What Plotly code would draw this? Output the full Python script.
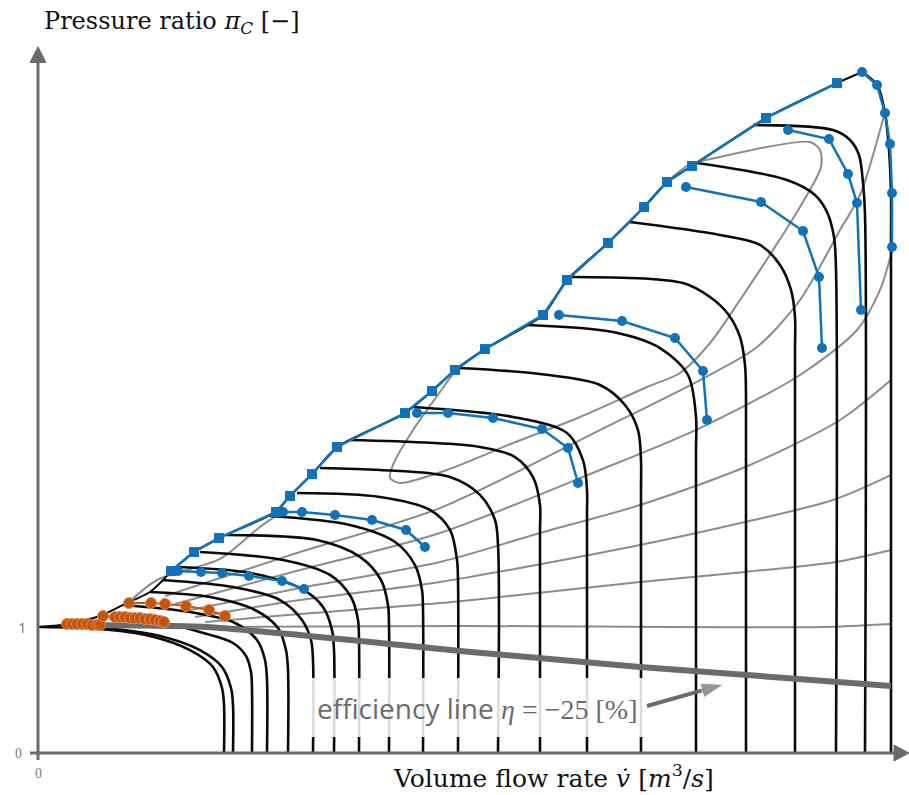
import plotly.graph_objects as go

# ---------------- data (x: volume flow rate, arbitrary units; y: pressure ratio) ----------------
# speed lines (black) : list of x / y point lists, each ending on the x axis at its choke flow
speed_x = [
    [0.02, 0.62, 1.12, 1.52, 1.75, 1.84, 1.86, 1.86],
    [0.67, 1.22, 1.62, 1.84, 1.93, 1.95, 1.95],
    [0.62, 1.32, 1.62, 1.95, 2.08, 2.13, 2.14, 2.14],
    [0.85, 1.52, 1.97, 2.19, 2.27, 2.29, 2.29],
    [1.12, 1.72, 2.17, 2.40, 2.48, 2.50, 2.50],
    [1.25, 1.95, 2.42, 2.64, 2.73, 2.75, 2.75],
    [1.39, 2.12, 2.62, 2.85, 2.94, 2.96, 2.96],
    [1.62, 2.45, 2.92, 3.13, 3.20, 3.21, 3.21],
    [1.89, 2.79, 3.22, 3.43, 3.50, 3.51, 3.51],
    [2.32, 3.12, 3.57, 3.77, 3.84, 3.85, 3.85],
    [2.59, 3.42, 3.92, 4.12, 4.19, 4.20, 4.20],
    [2.82, 3.42, 4.12, 4.42, 4.57, 4.60, 4.60],
    [3.12, 4.42, 4.77, 4.95, 5.02, 5.02, 5.02],
    [3.75, 4.75, 5.29, 5.45, 5.49, 5.49, 5.49],
    [4.22, 5.02, 5.62, 5.87, 6.00, 6.03, 6.03, 6.03],
    [4.89, 5.75, 6.22, 6.50, 6.58, 6.58, 6.58],
    [5.34, 6.45, 6.72, 6.90, 7.02, 7.07, 7.08, 7.08],
    [5.92, 6.82, 7.22, 7.42, 7.53, 7.57, 7.57, 7.57],
    [6.59, 7.49, 7.77, 7.89, 7.96, 7.98, 7.98],
    [7.15, 7.95, 8.12, 8.21, 8.25, 8.27, 8.27],
    [8.24, 8.39, 8.47, 8.51, 8.53, 8.53, 8.53],
]
speed_y = [
    [1.000, 0.984, 0.929, 0.817, 0.683, 0.516, 0.381, 0.0],
    [0.992, 0.929, 0.817, 0.683, 0.516, 0.381, 0.0],
    [1.087, 1.024, 0.960, 0.873, 0.770, 0.643, 0.500, 0.0],
    [1.175, 1.119, 1.032, 0.897, 0.738, 0.579, 0.0],
    [1.278, 1.238, 1.135, 0.992, 0.817, 0.659, 0.0],
    [1.373, 1.317, 1.214, 1.056, 0.897, 0.738, 0.0],
    [1.476, 1.429, 1.310, 1.159, 0.976, 0.817, 0.0],
    [1.595, 1.532, 1.413, 1.238, 1.056, 0.897, 0.0],
    [1.730, 1.690, 1.556, 1.373, 1.175, 1.016, 0.0],
    [1.881, 1.810, 1.675, 1.492, 1.294, 1.135, 0.0],
    [2.063, 2.032, 1.929, 1.770, 1.532, 1.373, 0.0],
    [2.262, 2.246, 2.190, 2.048, 1.849, 1.651, 0.0],
    [2.484, 2.429, 2.349, 2.190, 1.968, 1.770, 0.0],
    [2.746, 2.667, 2.540, 2.325, 2.087, 1.889, 0.0],
    [3.056, 3.008, 2.921, 2.762, 2.563, 2.325, 2.087, 0.0],
    [3.397, 3.341, 3.214, 3.000, 2.667, 2.405, 0.0],
    [3.778, 3.730, 3.619, 3.484, 3.302, 3.079, 2.841, 0.0],
    [4.214, 4.111, 4.032, 3.873, 3.675, 3.460, 3.198, 0.0],
    [4.683, 4.548, 4.429, 4.294, 4.095, 3.833, 0.0],
    [4.984, 4.944, 4.865, 4.746, 4.524, 4.270, 0.0],
    [5.405, 5.302, 5.079, 4.786, 4.429, 3.992, 0.0],
]

# surge line (black thin part below the first measured point)
surge_black_x = [0.00, 0.32, 0.62, 0.85, 1.12, 1.25, 1.33]
surge_black_y = [1.000, 1.024, 1.087, 1.175, 1.278, 1.373, 1.444]
# surge line measured points (blue squares)
surge_x = [1.33, 1.56, 1.81, 2.38, 2.52, 2.74, 2.99, 3.67, 3.94, 4.17, 4.47, 5.05, 5.29,
           5.70, 6.06, 6.29, 6.54, 7.28, 7.99]
surge_y = [1.444, 1.595, 1.706, 1.913, 2.040, 2.214, 2.429, 2.698, 2.873, 3.040, 3.206,
           3.476, 3.754, 4.048, 4.333, 4.532, 4.659, 5.040, 5.317]
surge_top_x = [7.99, 8.24]
surge_top_y = [5.317, 5.405]

# measured operating lines (blue circles)
op_x = [
    [1.40, 1.63, 1.84, 2.11, 2.44, 2.66],
    [2.45, 2.64, 2.97, 3.34, 3.68, 3.87],
    [3.79, 4.10, 4.55, 5.04, 5.30, 5.40],
    [5.21, 5.84, 6.37, 6.65, 6.69],
    [6.48, 7.23, 7.65, 7.81, 7.84],
    [7.50, 7.91, 8.10, 8.19, 8.23],
    [8.24, 8.39, 8.47, 8.52, 8.54, 8.54],
]
op_y = [
    [1.444, 1.437, 1.429, 1.405, 1.365, 1.302],
    [1.913, 1.913, 1.889, 1.849, 1.770, 1.635],
    [2.698, 2.698, 2.659, 2.571, 2.421, 2.143],
    [3.476, 3.429, 3.294, 3.032, 2.643],
    [4.492, 4.373, 4.143, 3.778, 3.214],
    [4.944, 4.873, 4.595, 4.365, 3.516],
    [5.405, 5.302, 5.079, 4.833, 4.444, 4.016],
]

# low-speed measured points (orange)
low1_x = [0.29, 0.34, 0.39, 0.44, 0.49, 0.54, 0.59, 0.62, 0.65, 0.77, 0.82, 0.87, 0.92,
          0.97, 1.02, 1.07, 1.12, 1.17, 1.22, 1.26]
low1_y = [1.024, 1.024, 1.024, 1.024, 1.024, 1.016, 1.016, 1.016, 1.087, 1.079, 1.079,
          1.079, 1.071, 1.071, 1.071, 1.063, 1.063, 1.056, 1.048, 1.040]
low2_x = [0.91, 1.13, 1.27, 1.48, 1.71, 1.87]
low2_y = [1.190, 1.190, 1.183, 1.167, 1.135, 1.087]

# efficiency lines (grey)
eff_x = [
    [0.87, 1.19, 1.82, 2.22, 2.44],
    [1.27, 2.62, 4.02, 5.62, 6.62, 7.19, 7.62, 8.02, 8.22, 8.47],
    [1.37, 2.62, 4.02, 5.62, 6.62, 7.62, 8.19, 8.42, 8.55],
    [1.47, 2.62, 4.02, 5.02, 6.02, 7.12, 8.02, 8.53],
    [1.57, 2.62, 4.02, 6.02, 7.07, 7.95, 8.53],
    [1.67, 2.62, 4.02, 6.02, 7.07, 7.98, 8.53],
    [1.69, 4.22, 7.85, 8.53],
]
eff_y = [
    [1.167, 1.373, 1.540, 1.794, 1.913],
    [1.246, 1.595, 1.944, 2.563, 2.960, 3.222, 3.595, 4.151, 4.429, 5.087],
    [1.183, 1.452, 1.746, 2.246, 2.579, 3.000, 3.357, 3.675, 4.016],
    [1.127, 1.310, 1.516, 1.746, 1.968, 2.286, 2.643, 2.960],
    [1.079, 1.214, 1.357, 1.651, 1.833, 2.008, 2.206],
    [1.040, 1.103, 1.190, 1.357, 1.437, 1.516, 1.611],
    [1.000, 1.008, 1.000, 1.024],
]
island_x = [6.53, 6.82, 7.29, 7.72, 7.82, 7.83, 7.62, 7.35, 7.02, 6.72, 6.42, 6.09, 5.42,
            4.75, 4.09, 3.62, 3.52, 3.55, 3.75, 4.02, 4.17, 4.47, 5.05, 5.29, 5.70, 6.06,
            6.29, 6.53]
island_y = [4.675, 4.730, 4.810, 4.849, 4.786, 4.651, 4.333, 3.992, 3.595, 3.254, 3.016,
            2.905, 2.667, 2.460, 2.246, 2.143, 2.183, 2.286, 2.563, 2.865, 3.024, 3.206,
            3.476, 3.754, 4.048, 4.333, 4.532, 4.675]

# efficiency line eta = -25 %
eta_x = [0.32, 1.69, 4.22, 6.02, 8.53]
eta_y = [1.016, 1.000, 0.810, 0.683, 0.532]

# annotation arrow (tail -> head) pointing at the efficiency line
eta_arrow_x = [6.09, 6.86]
eta_arrow_y = [0.373, 0.545]

# axis tick labels
tick_y_vals = [0, 1]
tick_y_text = ["0", "1"]

# ---------------- figure ----------------
BLUE = "#1172b8"
ORANGE = "#c4550f"
GREY = "#8c8c8c"
AXIS = "#6b6b6b"

fig = go.Figure()

for xs, ys in zip(eff_x, eff_y):
    fig.add_trace(go.Scatter(x=xs, y=ys, mode="lines",
                             line=dict(color=GREY, width=2, shape="spline", smoothing=0.8),
                             hoverinfo="skip"))
fig.add_trace(go.Scatter(x=island_x, y=island_y, mode="lines",
                         line=dict(color=GREY, width=2, shape="spline", smoothing=0.8),
                         hoverinfo="skip"))

for xs, ys in zip(speed_x, speed_y):
    fig.add_trace(go.Scatter(x=xs, y=ys, mode="lines",
                             line=dict(color="#0a0a0a", width=2.6, shape="spline", smoothing=0.9),
                             hoverinfo="skip"))

fig.add_trace(go.Scatter(x=eta_x, y=eta_y, mode="lines",
                         line=dict(color="#6b6b6b", width=6, shape="spline", smoothing=0.6),
                         hoverinfo="skip"))

fig.add_trace(go.Scatter(x=surge_black_x + surge_x + surge_top_x[1:],
                         y=surge_black_y + surge_y + surge_top_y[1:], mode="lines",
                         line=dict(color="#0a0a0a", width=2, shape="spline", smoothing=0.6),
                         hoverinfo="skip"))

fig.add_trace(go.Scatter(x=surge_x, y=surge_y, mode="lines+markers",
                         line=dict(color=BLUE, width=2.5),
                         marker=dict(symbol="square", size=10, color=BLUE),
                         hoverinfo="skip"))

for xs, ys in zip(op_x, op_y):
    fig.add_trace(go.Scatter(x=xs, y=ys, mode="lines+markers",
                             line=dict(color=BLUE, width=2.5),
                             marker=dict(symbol="circle", size=10, color=BLUE),
                             hoverinfo="skip"))

for xs, ys in ((low1_x, low1_y), (low2_x, low2_y)):
    fig.add_trace(go.Scatter(x=xs, y=ys, mode="lines+markers",
                             line=dict(color=ORANGE, width=2),
                             marker=dict(symbol="circle", size=11, color=ORANGE,
                                         line=dict(color="#e08a4f", width=1)),
                             hoverinfo="skip"))

# arrow towards the efficiency line
fig.add_trace(go.Scatter(x=eta_arrow_x, y=eta_arrow_y, mode="lines+markers",
                         line=dict(color="#6b6b6b", width=4),
                         marker=dict(symbol="arrow", angleref="previous", size=[0, 24],
                                     color="#6b6b6b"),
                         hoverinfo="skip"))

# ---------------- axes drawn as arrows ----------------
px = 0.01          # one pixel in x units
py = 1 / 126.0     # one pixel in y units
shapes = [
    dict(type="line", x0=0, x1=0, y0=-7 * py, y1=5.49, line=dict(color=AXIS, width=3)),
    dict(type="path", path=f"M {-8*px} 5.48 L 0 5.605 L {8*px} 5.48 Z",
         fillcolor=AXIS, line=dict(color=AXIS, width=1)),
    dict(type="line", x0=-8 * px, x1=8.57, y0=0, y1=0, line=dict(color=AXIS, width=3)),
    dict(type="path", path=f"M 8.56 {-8*py} L 8.71 0 L 8.56 {8*py} Z",
         fillcolor=AXIS, line=dict(color=AXIS, width=1)),
    # semi-transparent label box
    dict(type="rect", x0=2.70, x1=6.07, y0=0.127, y1=0.595, layer="above",
         fillcolor="rgba(255,255,255,0.86)", line=dict(width=0)),
]

annotations = [
    dict(x=-0.16, y=tick_y_vals[1], text=tick_y_text[1], showarrow=False,
         font=dict(family="Open Sans", size=15, color="#7a7a7a")),
    dict(x=-0.20, y=tick_y_vals[0], text=tick_y_text[0], showarrow=False,
         font=dict(family="Liberation Serif", size=14, color="#7a7a7a")),
    dict(x=0.0, y=-0.16, text="0", showarrow=False,
         font=dict(family="Liberation Serif", size=14, color="#7a7a7a")),
    dict(x=1.34, y=5.80, text="Pressure ratio <i>π</i><sub><i>C</i></sub> [−]", showarrow=False,
         font=dict(family="DejaVu Serif", size=24, color="#111111")),
    dict(x=5.15, y=-0.185, text="Volume flow rate <i>v̇</i> [<i>m</i><sup>3</sup>/<i>s</i>]",
         showarrow=False, font=dict(family="DejaVu Serif", size=25, color="#111111")),
    dict(x=4.39, y=0.36,
         text="efficiency line <span style='font-family:Liberation Serif'><i>η</i> = −25 [%]</span>",
         showarrow=False, font=dict(family="Open Sans", size=28, color="#6b6b6b")),
]

fig.update_layout(
    width=909, height=795,
    margin=dict(l=0, r=0, t=0, b=0),
    paper_bgcolor="white", plot_bgcolor="white",
    showlegend=False,
    xaxis=dict(range=[-0.38, 8.71], visible=False, fixedrange=True),
    yaxis=dict(range=[-42 / 126.0, 753 / 126.0], visible=False, fixedrange=True),
    shapes=shapes,
    annotations=annotations,
)

fig.write_html("out.html", config={"displayModeBar": False},
               post_script="document.body.style.margin='0';")
